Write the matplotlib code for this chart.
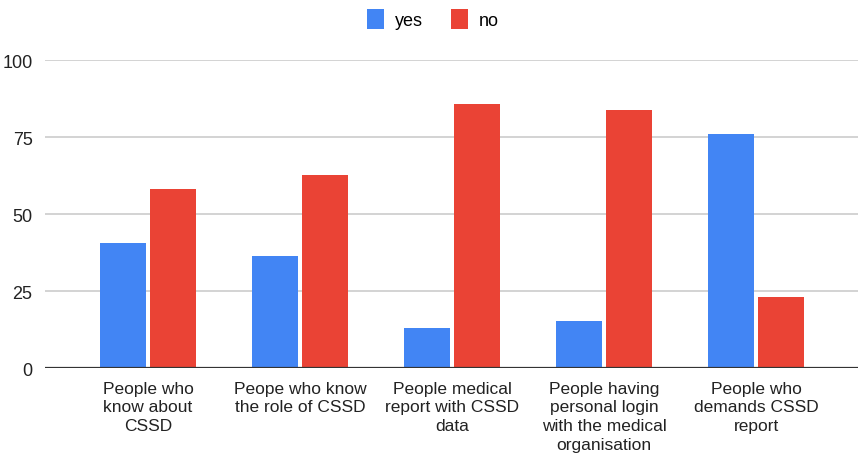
import numpy as np
import matplotlib.pyplot as plt

categories = ['People who\nknow about\nCSSD',
              'Peope who know\nthe role of CSSD',
              'People medical\nreport with CSSD\ndata',
              'People having\npersonal login\nwith the medical\norganisation',
              'People who\ndemands CSSD\nreport']
yes = [40.8, 36.4, 13.1, 15.3, 76.1]
no = [58.3, 62.7, 85.8, 83.9, 23.0]

plt.rcParams['font.family'] = ['Liberation Sans', 'DejaVu Sans']

fig = plt.figure(figsize=(8.58, 4.64), dpi=100)
ax = fig.add_axes([45/858, 1 - 369.3/464, 1 - 45/858, 308.3/464])

x = np.arange(len(categories))
w = 0.30
ax.bar(x - 0.165, yes, w, color='#4285F4', label='yes', zorder=3)
ax.bar(x + 0.165, no, w, color='#EA4335', label='no', zorder=3)

ax.set_xlim(-0.678, 4.67)
ax.set_ylim(0, 100)
ax.set_yticks([0, 25, 50, 75, 100])
ax.yaxis.grid(True, color='#cccccc', linewidth=1.2, zorder=0)
ax.axhline(0, color='#333333', linewidth=1.6, zorder=4)
for s in ax.spines.values():
    s.set_visible(False)
ax.tick_params(axis='y', length=0, labelsize=13, colors='#222222', pad=9)
ax.tick_params(axis='x', length=0, labelsize=12.5, colors='#222222', pad=9)
ax.set_xticks(x)
ax.set_xticklabels(categories, linespacing=1.3)

fig.legend(loc='center', bbox_to_anchor=(433/858, 1 - 20/464), ncol=2, frameon=False,
           fontsize=13, handlelength=0.9, handleheight=1.4, columnspacing=1.6,
           handletextpad=0.6)

plt.savefig('out.png', dpi=100)
plt.close()
